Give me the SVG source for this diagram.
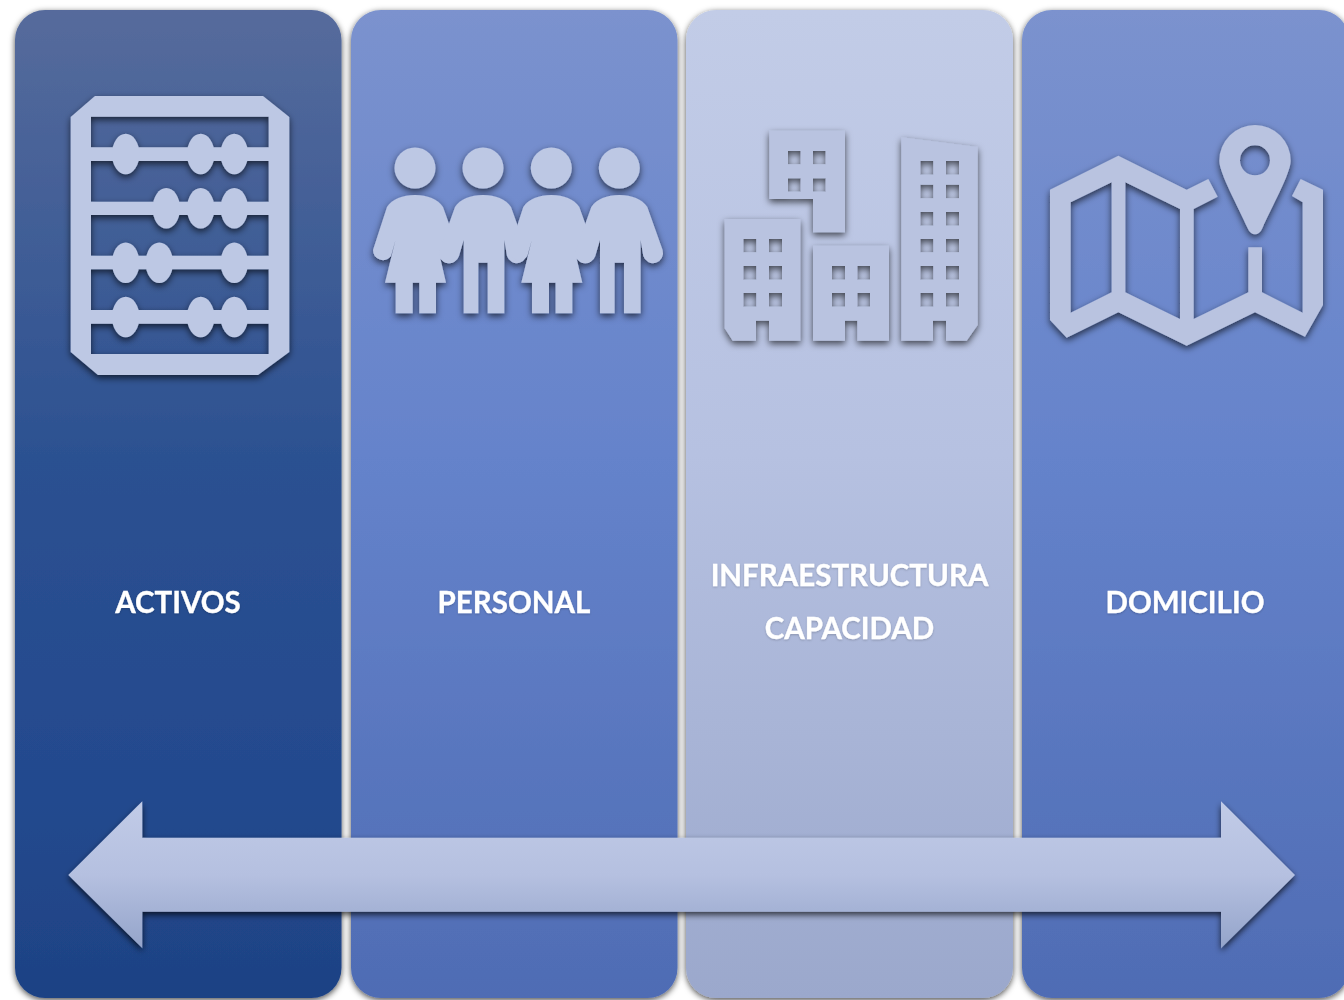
<svg xmlns="http://www.w3.org/2000/svg" xmlns:xlink="http://www.w3.org/1999/xlink" width="1344" height="1000" viewBox="0 0 1344 1000">
<style>
.lbl{font-family:"Lato","Carlito","Liberation Sans",sans-serif;font-weight:700;font-size:29.500px;fill:#fff;stroke:#fff;stroke-width:.3;text-anchor:middle;filter:url(#textShadow)}
.ic{fill:#bdc8e4;filter:url(#iconShadow)}
.ic2{fill:#b9c3e0;filter:url(#iconShadow)}
</style>
<defs>
<linearGradient id="g1" x1="0" y1="0" x2="0" y2="1"><stop offset="0" stop-color="#566b9c"/><stop offset=".45" stop-color="#2c5191"/><stop offset=".8" stop-color="#23498e"/><stop offset="1" stop-color="#1e4284"/></linearGradient>
<linearGradient id="g2" x1="0" y1="0" x2="0" y2="1"><stop offset="0" stop-color="#7b92ce"/><stop offset=".45" stop-color="#6583cb"/><stop offset="1" stop-color="#4f6cb4"/></linearGradient>
<linearGradient id="g3" x1="0" y1="0" x2="0" y2="1"><stop offset="0" stop-color="#c2cce7"/><stop offset=".45" stop-color="#b6c1e1"/><stop offset="1" stop-color="#9ba8cc"/></linearGradient>
<linearGradient id="ga" x1="0" y1="0" x2="0" y2="1"><stop offset="0" stop-color="#c1cbe7"/><stop offset=".5" stop-color="#b5c0e0"/><stop offset="1" stop-color="#94a4ca"/></linearGradient>
<filter id="colShadow" x="-5%" y="-3%" width="110%" height="106%"><feDropShadow dx="0" dy="2" stdDeviation="3" flood-color="#000" flood-opacity=".7"/></filter>
<filter id="iconShadow" x="-10%" y="-10%" width="120%" height="120%"><feDropShadow dx="0" dy="3" stdDeviation="3.500" flood-color="#000" flood-opacity=".65"/></filter>
<filter id="arrowShadow" x="-3%" y="-10%" width="106%" height="125%"><feDropShadow dx="0" dy="3" stdDeviation="3" flood-color="#000" flood-opacity=".7"/></filter>
<filter id="textShadow" x="-5%" y="-20%" width="110%" height="140%"><feDropShadow dx="0" dy="1" stdDeviation="1" flood-color="#000" flood-opacity=".2"/></filter>
<path id="boy" d="M0 195C12 195 23 199 28 207L43.300 250A10 10 0 0 1 24 256L21.300 240V313.300H4.700V262.700H-4.700V313.300H-19.300V240L-24 256A10 10 0 0 1 -43.300 250L-28 207C-23 199 -12 195 0 195Z"/>
<path id="girl" d="M0 195C12 195 23 199 28 207L43.300 250A10 10 0 0 1 24 256L21 240L31 282.700H21V313.300H4.300V282.700H-2.300V313.300H-19.300V282.700H-30L-19.500 240L-24 256A10 10 0 0 1 -42 250L-28 207C-23 199 -12 195 0 195Z"/>
</defs>
<rect width="1344" height="1000" fill="#fff"/>

<g id="col-activos">
<rect x="15" y="10" width="326.500" height="988" rx="30" fill="url(#g1)" filter="url(#colShadow)"/>
<text class="lbl" x="178" y="613">ACTIVOS</text>
</g>
<g id="col-personal">
<rect x="351" y="10" width="326.500" height="988" rx="30" fill="url(#g2)" filter="url(#colShadow)"/>
<text class="lbl" x="514" y="613">PERSONAL</text>
</g>
<g id="col-infraestructura">
<rect x="686" y="10" width="327" height="988" rx="30" fill="url(#g3)" filter="url(#colShadow)"/>
<text class="lbl" x="849.500" y="586">INFRAESTRUCTURA</text>
<text class="lbl" x="849.500" y="639">CAPACIDAD</text>
</g>
<g id="col-domicilio">
<rect x="1022" y="10" width="327" height="988" rx="30" fill="url(#g2)" filter="url(#colShadow)"/>
<text class="lbl" x="1185" y="613">DOMICILIO</text>
</g>

<g id="icon-abacus" class="ic">
<path fill-rule="evenodd" d="M95 96H263L289.300 117V352L258 375H98L70.700 352V117ZM91 116.700V147.300H268.700V116.700ZM91 161V201.700H268.700V161ZM91 215V255.700H268.700V215ZM91 269.300V310H268.700V269.300ZM91 323.700V354H268.700V323.700Z"/>
<ellipse cx="125.700" cy="154" rx="13.700" ry="20.300"/><ellipse cx="200.700" cy="154" rx="13.700" ry="20.300"/><ellipse cx="234.300" cy="154" rx="13.700" ry="20.300"/>
<ellipse cx="166.300" cy="208.300" rx="13.700" ry="20.300"/><ellipse cx="200.700" cy="208.300" rx="13.700" ry="20.300"/><ellipse cx="234.300" cy="208.300" rx="13.700" ry="20.300"/>
<ellipse cx="125.700" cy="262.700" rx="13.700" ry="20.300"/><ellipse cx="159.300" cy="262.700" rx="13.700" ry="20.300"/><ellipse cx="234.300" cy="262.700" rx="13.700" ry="20.300"/>
<ellipse cx="125.700" cy="317" rx="13.700" ry="20.300"/><ellipse cx="200.700" cy="317" rx="13.700" ry="20.300"/><ellipse cx="234.300" cy="317" rx="13.700" ry="20.300"/>
</g>

<g id="icon-people" class="ic">
<circle cx="415" cy="168" r="20.500"/><circle cx="483" cy="168" r="20.500"/><circle cx="551.300" cy="168" r="20.500"/><circle cx="619.300" cy="168" r="20.500"/>
<use xlink:href="#girl" href="#girl" x="415"/><use xlink:href="#boy" href="#boy" x="483"/><use xlink:href="#girl" href="#girl" x="551.300"/><use xlink:href="#boy" href="#boy" x="619.300"/>
</g>

<g id="icon-buildings" class="ic2">
<path fill-rule="evenodd" d="M769.300 130.700H845V232.300H813V199H769.300ZM788 151V164.300H800.700V151ZM813 151V164.300H825.700V151ZM788 178.300V191.700H800.700V178.300ZM813 178.300V191.700H825.700V178.300Z"/>
<path fill-rule="evenodd" d="M724.700 219H800.300V340.700H769V320.700H756V340.700H732.700L724.700 328.300ZM743.300 239V252.300H756.300V239ZM769 239V252.300H782V239ZM743.300 266V279.700H756.300V266ZM769 266V279.700H782V266ZM743.300 293V306.700H756.300V293ZM769 293V306.700H782V293Z"/>
<path fill-rule="evenodd" d="M813 245.700H889V340.700H857.300V320.700H845V340.700H813ZM832 266V279.700H845V266ZM857.300 266V279.700H870V266ZM832 293V306.700H845V293ZM857.300 293V306.700H870V293Z"/>
<path fill-rule="evenodd" d="M901.300 137.300L977.700 147V325L966.700 340.700H946V320.700H933V340.700H901.300ZM920.300 161V174.700H933.300V161ZM946 161V174.700H959V161ZM920.300 184.700V198.300H933.300V184.700ZM946 184.700V198.300H959V184.700ZM920.300 212V225.700H933.300V212ZM946 212V225.700H959V212ZM920.300 239V252.300H933.300V239ZM946 239V252.300H959V239ZM920.300 266V279.700H933.300V266ZM946 266V279.700H959V266ZM920.300 293V306.700H933.300V293ZM946 293V306.700H959V293Z"/>
</g>

<g id="icon-map" class="ic2">
<path fill-rule="evenodd" transform="translate(1035 115) scale(.33333)" d="M250 122L455 224L520 192L548 245L476 282V612L640 532V397H681V532L803 593V262L771 243L797 192L864 224V570L810 665L660 592L455 692L250 592L95 668L45 615V224ZM107 262V593L230 532V202ZM271 202V532L435 612V282Z"/>
<path fill-rule="evenodd" transform="translate(1035 115) scale(.33333)" d="M553 137A107 107 0 0 1 767 137C767 175 710 275 682 340C672 364 648 364 638 340C610 275 553 175 553 137ZM615 136A45 45 0 0 0 705 136A45 45 0 0 0 615 136Z"/>
</g>

<g id="arrow">
<path d="M68.300 875L142.300 801.300V837.700H1221V801.300L1295 875L1221 948.300V911.700H142.300V948.300Z" fill="url(#ga)" filter="url(#arrowShadow)"/>
</g>
</svg>
